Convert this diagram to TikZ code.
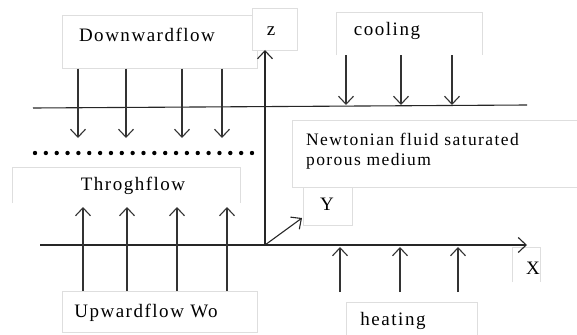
\documentclass[tikz,border=0pt]{standalone}
\usepackage{fontspec}
\setmainfont{Liberation Serif}
\newfontfamily\lblfont{Liberation Serif}[LetterSpace=8]
\usetikzlibrary{arrows.meta}
\begin{document}
\begin{tikzpicture}[x=1pt,y=-1pt,
  lbox/.style={draw=black!13, line width=0.7pt, fill=white, inner sep=0pt, anchor=north west},
  obox/.style={fill=white, inner sep=0pt, anchor=north west},
  edge/.style={draw=black!13, line width=0.7pt},
  txt/.style={inner sep=0pt, font=\lblfont\fontsize{19}{22}\selectfont, text=black},
  flow/.style={draw=black!80, line width=1.1pt, -{Straight Barb[length=8pt,width=15pt,line width=1.1pt]}},
  axisline/.style={draw=black!85, line width=1.1pt},
  axisarrow/.style={axisline, -{Straight Barb[length=8pt,width=15pt,line width=1.1pt]}}]
\useasboundingbox (0,0) rectangle (577,334);
% boxes
\node[lbox, minimum width=195pt, minimum height=53pt] (downbox) at (62,15) {};
\node[lbox, minimum width=45pt, minimum height=42pt] (zbox) at (252,8) {};
\node[obox, minimum width=146pt, minimum height=43pt] (coolbox) at (336,12) {};
\draw[edge] (coolbox.south west) |- (coolbox.north east) -- (coolbox.south east);
\node[lbox, minimum width=290pt, minimum height=67pt] (newtbox) at (292,120) {};
\node[lbox, minimum width=49pt, minimum height=38pt] (ybox) at (303,187) {};
\node[obox, minimum width=228pt, minimum height=36pt] (thrbox) at (12,167) {};
\draw[edge] (thrbox.south west) |- (thrbox.north east) -- (thrbox.south east);
\node[lbox, minimum width=195pt, minimum height=41pt] (upbox) at (62,291) {};
\node[obox, minimum width=131pt, minimum height=40pt] (heatbox) at (346,302) {};
\draw[edge] (heatbox.south west) |- (heatbox.north east) -- (heatbox.south east);
\node[obox, minimum width=28pt, minimum height=35pt] (xbox) at (512,247) {};
\draw[edge] (xbox.south west) |- (xbox.north east) -- (xbox.south east);
% texts
\node[txt] (downtxt) at (147,35) {Downwardflow};
\node[txt] (ztxt) at (271,31) {z};
\node[txt] (cooltxt) at (387,31) {cooling};
\node[txt, font=\lblfont\fontsize{17.5}{20}\selectfont, anchor=west, align=left] (newttxt) at (306,151) {Newtonian fluid saturated\\porous medium};
\node[txt] (ytxt) at (327,204) {Y};
\node[txt] (thrtxt) at (133,186) {Throghflow};
\node[txt] (uptxt) at (146,313) {Upwardflow Wo};
\node[txt] (heattxt) at (393,321) {heating};
\node[txt] (xtxt) at (533,268) {X};
% lines and axes
\coordinate (tl) at (33,108);
\coordinate (tr) at (527,105);
\draw[axisline] (tl) -- (tr);
\coordinate (O) at (265,245);
\coordinate (xl) at (40,245);
\coordinate (xr) at (527,245);
\coordinate (zt) at (265,50);
\coordinate (yt) at (302,218);
\draw[axisline] (xl) -- (O);
\draw[axisarrow] (O) -- (xr);
\draw[axisarrow] (O) -- (zt);
\draw[axisarrow] (O) -- (yt);
% dotted line
\foreach \i in {0,...,20} {\fill[black] (35+\i*10.85,153) circle (2.2pt);}
% downward arrows
\foreach \x [count=\k] in {78,126,182,222} {
  \coordinate (d\k) at (\x,138);
  \draw[flow] (downbox.south -| d\k) -- (d\k);
}
% cooling arrows
\foreach \x [count=\k] in {346,401,452} {
  \coordinate (c\k) at (\x,105);
  \draw[flow] (coolbox.south -| c\k) -- (c\k);
}
% upward arrows
\foreach \x [count=\k] in {83,127,177,227} {
  \coordinate (u\k) at (\x,207);
  \draw[flow] (upbox.north -| u\k) -- (u\k);
}
% heating arrows
\foreach \x [count=\k] in {340,400,458} {
  \coordinate (hs\k) at (\x,292);
  \coordinate (h\k) at (\x,247);
  \draw[flow] (hs\k) -- (h\k);
}
\end{tikzpicture}
\end{document}
